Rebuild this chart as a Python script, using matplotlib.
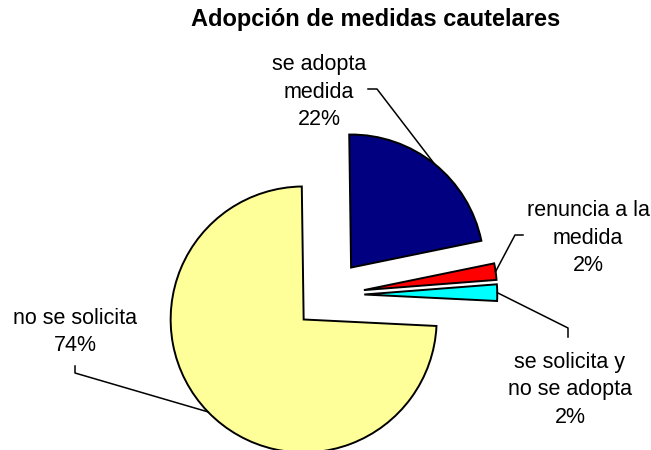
import numpy as np
import matplotlib
matplotlib.use("Agg")
import matplotlib.pyplot as plt

plt.rcParams['font.family'] = ['Liberation Sans', 'DejaVu Sans']

# datos
categorias = ["se adopta\nmedida", "renuncia a la\nmedida", "se solicita y\nno se adopta", "no se solicita"]
porcentajes = [22, 2, 2, 74]
colores = ["#000080", "#FF0000", "#00FFFF", "#FFFF99"]
titulo = "Adopción de medidas cautelares"

W, H = 651, 450
CX, CY, R = 329, 295, 133  # centro y radio del pastel en pixeles


def px(x, y):
    # pixel de la imagen -> coordenadas de datos
    return (x - CX) / R, (CY - y) / R


fig = plt.figure(figsize=(W / 100, H / 100), dpi=100)
ax = fig.add_axes([0, 0, 1, 1])

wedges, _ = ax.pie(porcentajes, colors=colores, startangle=90.8, counterclock=False,
                   explode=[0.265] * 4, radius=1,
                   wedgeprops=dict(edgecolor='black', linewidth=1.4))

# pie() cambia los limites, se fijan despues
ax.set_aspect('auto')
ax.set_xlim(px(0, 0)[0], px(W, 0)[0])
ax.set_ylim(px(0, H)[1], px(0, 0)[1])
ax.axis('off')

# posiciones de etiquetas (centro del texto) y codo de la linea guia
etiquetas = [
    ((319, 92), [(368, 89), (377, 89)]),
    ((588, 238), [(523, 235), (515, 235)]),
    ((570, 390), [(568, 337), (568, 328)]),
    ((75, 332), [(75, 366), (75, 373)]),
]

for w, cat, p, ((tx, ty), codo) in zip(wedges, categorias, porcentajes, etiquetas):
    ax.text(*px(tx, ty), f"{cat}\n{p}%", ha='center', va='center', fontsize=15.5,
            linespacing=1.4, color='black')
    ang = np.deg2rad((w.theta1 + w.theta2) / 2)
    cx, cy = w.center
    borde = (cx + w.r * np.cos(ang), cy + w.r * np.sin(ang))
    pts = [px(*c) for c in codo] + [borde]
    xs, ys = zip(*pts)
    ax.plot(xs, ys, color='black', lw=1.1)

ax.text(*px(376, 26), titulo, ha='center', va='baseline', fontsize=17, fontweight='bold')

fig.savefig("out.png", dpi=100)
